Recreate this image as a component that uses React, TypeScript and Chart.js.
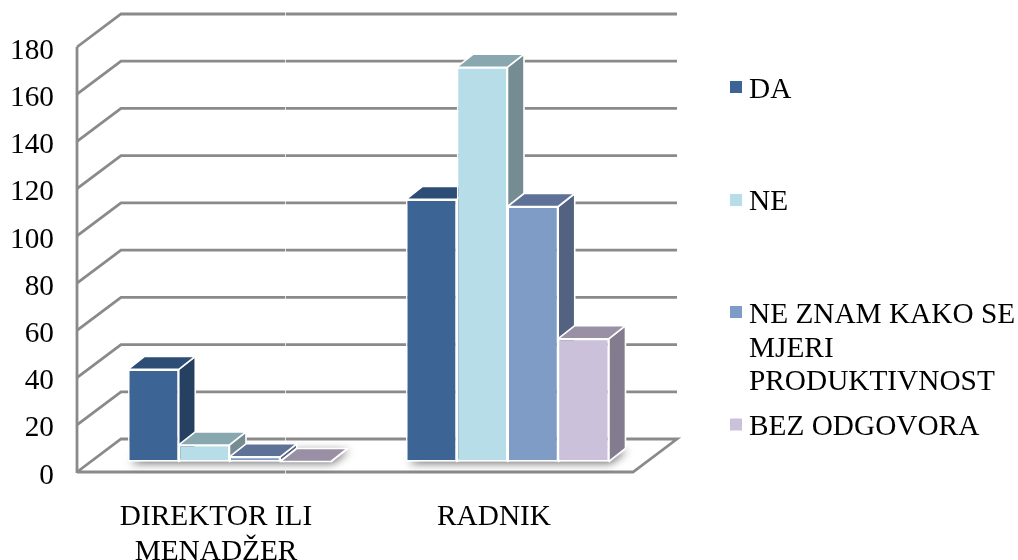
import React, { useEffect, useRef } from "react";
import { Chart, registerables } from "chart.js";

Chart.register(...registerables);

const categories: (string | string[])[] = [["DIREKTOR ILI", "MENADŽER"], "RADNIK"];
const seriesNames = ["DA", "NE", "NE ZNAM KAKO SE MJERI PRODUKTIVNOST", "BEZ ODGOVORA"];
const daValues = [39, 111];
const neValues = [7, 167];
const neZnamValues = [2, 108];
const bezOdgovoraValues = [0, 52];

const frontColors = ["#3c6596", "#b7dde8", "#7f9cc7", "#ccc1da"];
const topColors = ["#2c4d75", "#89a7af", "#5e7197", "#9a90a5"];
const sideColors = ["#254061", "#748c92", "#526280", "#837b8e"];

const legendLines = [["DA"], ["NE"], ["NE ZNAM KAKO SE", "MJERI", "PRODUKTIVNOST"], ["BEZ ODGOVORA"]];

const FONT = '"Liberation Serif", "Times New Roman", serif';
const FONT_SIZE = 29.3;
const GRID = "#8a8a8a";
const LABEL_SHIFT = 4; // tick labels sit this far below their gridlines
const WALL_DX = 44;
const WALL_DY = -33;
const BAR_DX = 13.5;
const BAR_DY = -10.5;
const DEPTH_DX = 16.5;
const DEPTH_DY = -13;

function poly(ctx: CanvasRenderingContext2D, pts: number[][]) {
  ctx.beginPath();
  pts.forEach((p, i) => (i ? ctx.lineTo(p[0], p[1]) : ctx.moveTo(p[0], p[1])));
  ctx.closePath();
}

const walls = {
  id: "walls",
  beforeDatasetsDraw(chart: any) {
    const { ctx, chartArea: a, scales } = chart;
    const y = scales.y;
    ctx.save();
    ctx.translate(0, -LABEL_SHIFT);
    ctx.save();
    ctx.strokeStyle = GRID;
    ctx.lineWidth = 2.8;
    ctx.lineJoin = "miter";
    y.ticks.forEach((t: any) => {
      const py = y.getPixelForValue(t.value);
      ctx.beginPath();
      ctx.moveTo(a.left, py);
      ctx.lineTo(a.left + WALL_DX, py + WALL_DY);
      ctx.lineTo(a.right + WALL_DX, py + WALL_DY);
      if (t.value === 0) {
        ctx.lineTo(a.right, py);
        ctx.lineTo(a.left, py);
      }
      ctx.stroke();
    });
    ctx.beginPath();
    ctx.moveTo(a.left, a.top);
    ctx.lineTo(a.left, a.bottom + 1);
    ctx.stroke();
    // faint divider between the two categories on the wall
    ctx.strokeStyle = "rgba(255,255,255,0.75)";
    ctx.lineWidth = 1;
    const mid = a.left + 208.5;
    ctx.beginPath();
    ctx.moveTo(mid, a.top + WALL_DY - 2);
    ctx.lineTo(mid, a.bottom + 2);
    ctx.stroke();
    ctx.restore();

    // the bars stand on the 3D floor, in from its front edge
    ctx.save();
    ctx.translate(BAR_DX, BAR_DY);
    const metas = chart.data.datasets.map((_: any, i: number) => chart.getDatasetMeta(i));
    chart.data.labels.forEach((_: any, c: number) => {
      const first = metas[0].data[c];
      const last = metas[metas.length - 1].data[c];
      const l = first.x - first.width / 2;
      const r = last.x + last.width / 2;
      const b = y.getPixelForValue(0);
      ctx.save();
      ctx.shadowColor = "rgba(0,0,0,0.55)";
      ctx.shadowBlur = 8;
      ctx.shadowOffsetX = 2;
      ctx.shadowOffsetY = 2;
      ctx.fillStyle = "#ffffff";
      poly(ctx, [[l, b], [r, b], [r + DEPTH_DX, b + DEPTH_DY], [l + DEPTH_DX, b + DEPTH_DY]]);
      ctx.fill();
      ctx.restore();
    });
    // painter's order: left series first, so each bar hides the faces of its left neighbour
    metas.forEach((meta: any, i: number) => {
      meta.data.forEach((bar: any) => {
        bar.draw(ctx, a);
        const l = bar.x - bar.width / 2;
        const r = bar.x + bar.width / 2;
        const t = bar.y;
        const b = bar.base;
        ctx.strokeStyle = "#ffffff";
        ctx.lineWidth = 1.6;
        ctx.lineJoin = "round";
        ctx.fillStyle = sideColors[i];
        poly(ctx, [[r, t], [r + DEPTH_DX, t + DEPTH_DY], [r + DEPTH_DX, b + DEPTH_DY], [r, b]]);
        ctx.fill();
        ctx.stroke();
        ctx.fillStyle = topColors[i];
        poly(ctx, [[l, t], [r, t], [r + DEPTH_DX, t + DEPTH_DY], [l + DEPTH_DX, t + DEPTH_DY]]);
        ctx.fill();
        ctx.stroke();
      });
    });
    ctx.restore();
    ctx.restore();
    return false;
  },
};

const sideLegend = {
  id: "sideLegend",
  afterDraw(chart: any) {
    const { ctx } = chart;
    const markerRows = [87, 200, 312, 424.5];
    const textRows = [98, 210, 323, 435];
    ctx.save();
    ctx.font = `${FONT_SIZE}px ${FONT}`;
    ctx.textBaseline = "alphabetic";
    ctx.textAlign = "left";
    legendLines.forEach((lines, i) => {
      ctx.fillStyle = frontColors[i];
      ctx.fillRect(730, markerRows[i] - 6, 12, 12);
      ctx.fillStyle = "#000000";
      lines.forEach((line, k) => ctx.fillText(line, 749, textRows[i] + k * 33.5));
    });
    ctx.restore();
  },
};

export default function App() {
  const ref = useRef<HTMLCanvasElement>(null);
  useEffect(() => {
    const values = [daValues, neValues, neZnamValues, bezOdgovoraValues];
    const chart = new Chart(ref.current!, {
      type: "bar",
      data: {
        labels: categories as any,
        datasets: seriesNames.map((label, i) => ({
          label,
          data: values[i],
          backgroundColor: frontColors[i],
          borderColor: "#ffffff",
          borderWidth: 1.5,
          borderSkipped: false,
          categoryPercentage: 0.73,
          barPercentage: 1,
        })) as any,
      },
      options: {
        responsive: false,
        animation: false,
        devicePixelRatio: 1,
        layout: { padding: { top: 47 + LABEL_SHIFT, right: 385, left: 0, bottom: 0 } },
        plugins: { legend: { display: false }, tooltip: { enabled: false }, title: { display: false } },
        scales: {
          x: {
            grid: { display: false },
            border: { display: false },
            ticks: { color: "#000", font: { family: FONT, size: FONT_SIZE, lineHeight: 1.2 }, padding: 15.5, maxRotation: 0, autoSkip: false },
            afterFit: (s: any) => { s.height = 88 - LABEL_SHIFT; },
          },
          y: {
            min: 0,
            max: 180,
            grid: { display: false },
            border: { display: false },
            ticks: { stepSize: 20, color: "#000", font: { family: FONT, size: FONT_SIZE }, padding: 15 },
            afterFit: (s: any) => { s.width = 77; },
          },
        },
      },
      plugins: [walls, sideLegend],
    } as any);
    return () => chart.destroy();
  }, []);
  return (
    <div style={{ position: "absolute", left: 0, top: 0, width: 1018, height: 560, background: "#fff" }}>
      <canvas ref={ref} width={1018} height={560} style={{ display: "block" }} />
    </div>
  );
}
